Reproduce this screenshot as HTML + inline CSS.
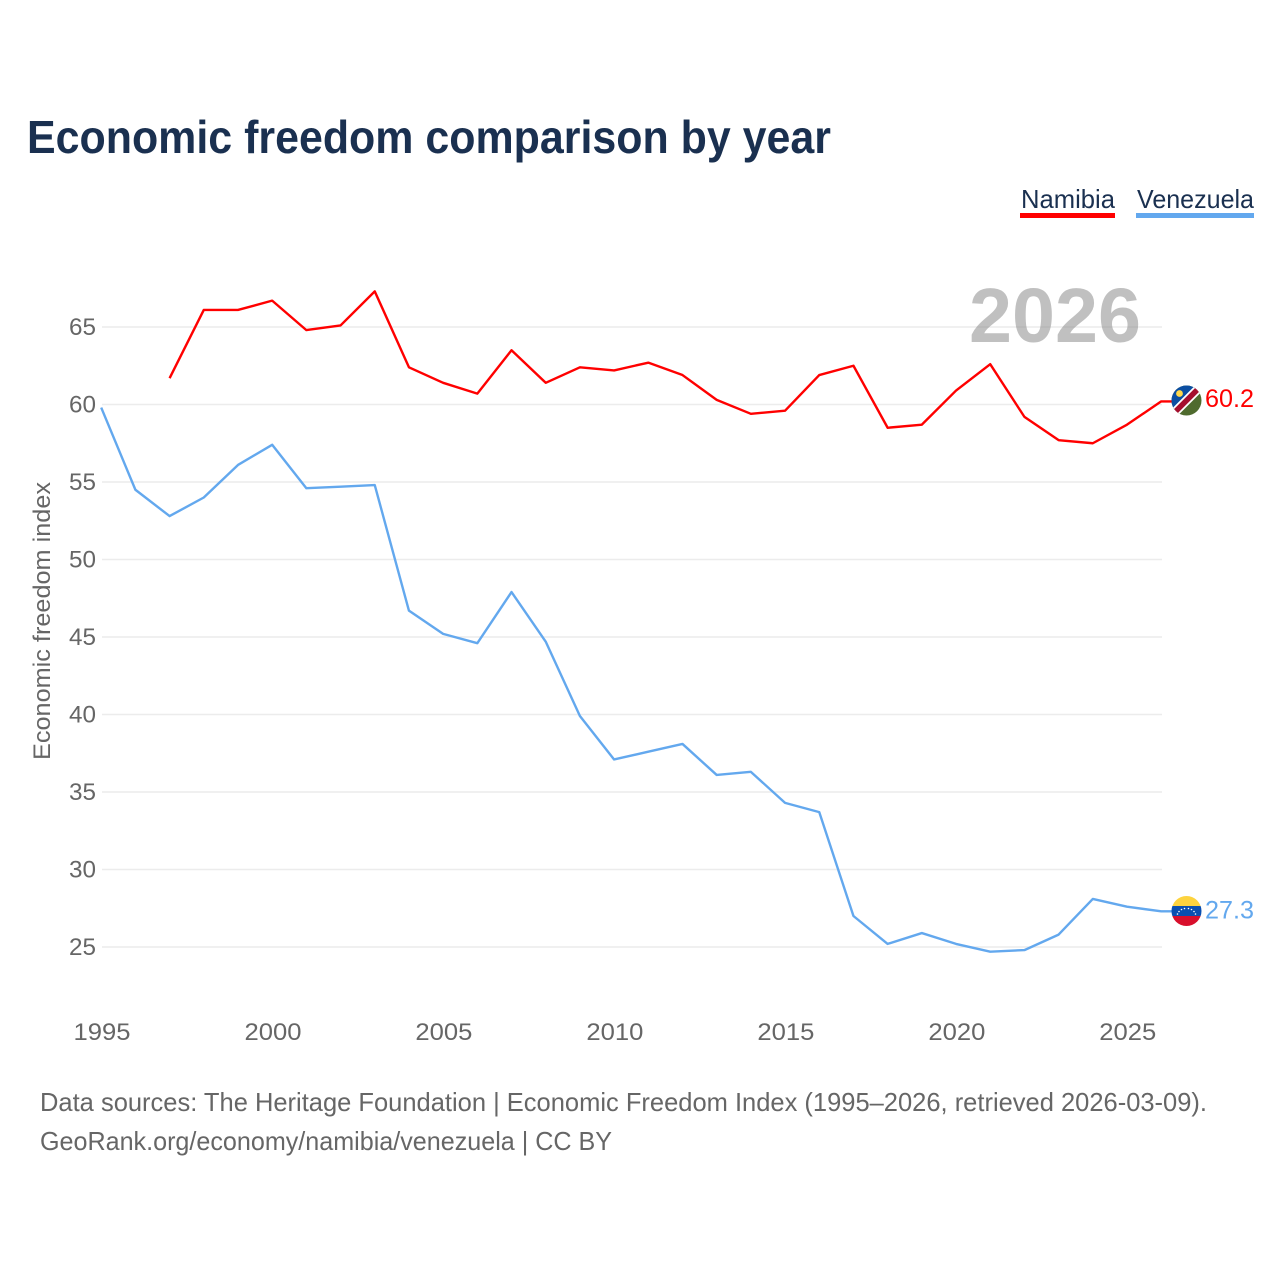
<!DOCTYPE html>
<html lang="en">
<head>
<meta charset="utf-8">
<title>Economic freedom comparison by year</title>
<style>
  html, body { margin: 0; padding: 0; background: #fff; }
  #chart { display: block; font-family: "Liberation Sans", sans-serif; }
</style>
</head>
<body>
<svg id="chart" xmlns="http://www.w3.org/2000/svg" width="1280" height="1280" viewBox="0 0 1280 1280">
  <defs>
    <clipPath id="flag-clip-na"><circle cx="1186.5" cy="400.5" r="15"/></clipPath>
    <clipPath id="flag-clip-ve"><circle cx="1186.5" cy="911" r="15"/></clipPath>
  </defs>
  <rect x="0" y="0" width="1280" height="1280" fill="#ffffff"/>

  <text x="27" y="153" font-size="46" font-weight="700" fill="#1a3050" textLength="804" lengthAdjust="spacingAndGlyphs">Economic freedom comparison by year</text>

  <g>
    <g>
      <text x="1021" y="208" font-size="26" fill="#1a3050" textLength="94" lengthAdjust="spacingAndGlyphs">Namibia</text>
      <rect x="1020" y="213" width="95" height="5" fill="#ff0000"/>
    </g>
    <g>
      <text x="1137" y="208" font-size="26" fill="#1a3050" textLength="117" lengthAdjust="spacingAndGlyphs">Venezuela</text>
      <rect x="1136" y="213" width="118" height="5" fill="#63a8ee"/>
    </g>
  </g>

  <g id="grid"></g>
  <g id="y-ticks"></g>
  <g id="x-ticks"></g>

  <text transform="translate(50,621) rotate(-90)" text-anchor="middle" font-size="24.5" fill="#666666" textLength="278" lengthAdjust="spacingAndGlyphs">Economic freedom index</text>

  <g id="series"></g>

  <text x="969" y="342" font-size="77" font-weight="700" fill="#828282" fill-opacity="0.5" textLength="172" lengthAdjust="spacingAndGlyphs">2026</text>

  <g clip-path="url(#flag-clip-na)">
    <rect x="1171" y="385" width="31" height="31" fill="#4f6b2e"/>
    <polygon points="1171,385 1202,385 1171,416" fill="#0b4ea2"/>
    <line x1="1170" y1="417" x2="1203" y2="384" stroke="#ffffff" stroke-width="9"/>
    <line x1="1170" y1="417" x2="1203" y2="384" stroke="#a50e2d" stroke-width="5.5"/>
    <circle cx="1179.5" cy="393.5" r="3.4" fill="#ffd84a"/>
  </g>
  <g clip-path="url(#flag-clip-ve)">
    <rect x="1171" y="896" width="31" height="10" fill="#fdd33e"/>
    <rect x="1171" y="906" width="31" height="10" fill="#0a4fb0"/>
    <rect x="1171" y="916" width="31" height="10" fill="#d80f2c"/>
    <g fill="#ffffff">
      <circle cx="1177.5" cy="914" r="0.8"/>
      <circle cx="1179" cy="911.5" r="0.8"/>
      <circle cx="1181.5" cy="909.5" r="0.8"/>
      <circle cx="1184.5" cy="908.5" r="0.8"/>
      <circle cx="1188.5" cy="908.5" r="0.8"/>
      <circle cx="1191.5" cy="909.5" r="0.8"/>
      <circle cx="1194" cy="911.5" r="0.8"/>
      <circle cx="1195.5" cy="914" r="0.8"/>
    </g>
  </g>

  <g id="end-labels"></g>

  <text x="40" y="1111" font-size="26" fill="#666666" textLength="1167" lengthAdjust="spacingAndGlyphs">Data sources: The Heritage Foundation | Economic Freedom Index (1995–2026, retrieved 2026-03-09).</text>
  <text x="40" y="1150" font-size="26" fill="#666666" textLength="572" lengthAdjust="spacingAndGlyphs">GeoRank.org/economy/namibia/venezuela | CC BY</text>
</svg>

<script>
const years = [1995,1996,1997,1998,1999,2000,2001,2002,2003,2004,2005,2006,2007,2008,2009,2010,2011,2012,2013,2014,2015,2016,2017,2018,2019,2020,2021,2022,2023,2024,2025,2026];
const namibiaValues = [null,null,61.7,66.1,66.1,66.7,64.8,65.1,67.3,62.4,61.4,60.7,63.5,61.4,62.4,62.2,62.7,61.9,60.3,59.4,59.6,61.9,62.5,58.5,58.7,60.9,62.6,59.2,57.7,57.5,58.7,60.2];
const venezuelaValues = [59.8,54.5,52.8,54.0,56.1,57.4,54.6,54.7,54.8,46.7,45.2,44.6,47.9,44.7,39.9,37.1,37.6,38.1,36.1,36.3,34.3,33.7,27.0,25.2,25.9,25.2,24.7,24.8,25.8,28.1,27.6,27.3];
const yTickValues = [25,30,35,40,45,50,55,60,65];
const xTickValues = [1995,2000,2005,2010,2015,2020,2025];

const SVG_NS = 'http://www.w3.org/2000/svg';
function xScale(year) { return 101.2 + (year - 1995) * (1161.2 - 101.2) / (2026 - 1995); }
function yScale(value) { return 947 + (value - 25) * (327 - 947) / (65 - 25); }
function make(tag, attrs) {
  const el = document.createElementNS(SVG_NS, tag);
  for (const k in attrs) el.setAttribute(k, attrs[k]);
  return el;
}

const gridGroup = document.getElementById('grid');
const yTickGroup = document.getElementById('y-ticks');
yTickValues.forEach(function (v) {
  const line = make('line', { x1: 102, x2: 1162, y1: yScale(v), y2: yScale(v), stroke: '#ececec', 'stroke-width': 1.6 });
  
  
  gridGroup.appendChild(line);
  const label = make('text', { x: 96, y: yScale(v) + 8, 'text-anchor': 'end', 'font-size': 24.5, fill: '#666666', textLength: 27, lengthAdjust: 'spacingAndGlyphs' });
  label.textContent = String(v);
  
  
  yTickGroup.appendChild(label);
});

const xTickGroup = document.getElementById('x-ticks');
xTickValues.forEach(function (yr) {
  const label = make('text', { x: xScale(yr) + 0.8, y: 1040, 'text-anchor': 'middle', 'font-size': 24.5, fill: '#666666', textLength: 57, lengthAdjust: 'spacingAndGlyphs' });
  label.textContent = String(yr);
  
  
  xTickGroup.appendChild(label);
});

function drawSeries(values, color, seriesName) {
  const pts = [];
  values.forEach(function (v, i) {
    if (v !== null) pts.push(xScale(years[i]).toFixed(2) + ',' + yScale(v).toFixed(2));
  });
  const last = values[values.length - 1];
  pts.push('1172,' + yScale(last).toFixed(2));
  const line = make('polyline', { points: pts.join(' '), fill: 'none', stroke: color, 'stroke-width': 2.4, 'stroke-linejoin': 'round' });
  
  
  document.getElementById('series').appendChild(line);
}
drawSeries(namibiaValues, '#ff0000', 'namibia-line');
drawSeries(venezuelaValues, '#63a8ee', 'venezuela-line');

function drawEndLabel(values, color, labelName, dy) {
  const last = values[values.length - 1];
  const label = make('text', { x: 1205, y: yScale(last) + dy, 'font-size': 25, fill: color, textLength: 49, lengthAdjust: 'spacingAndGlyphs' });
  label.textContent = last.toFixed(1);
  
  
  document.getElementById('end-labels').appendChild(label);
}
drawEndLabel(namibiaValues, '#ff0000', 'namibia-end-value', 5.5);
drawEndLabel(venezuelaValues, '#63a8ee', 'venezuela-end-value', 7);
</script>
</body>
</html>
